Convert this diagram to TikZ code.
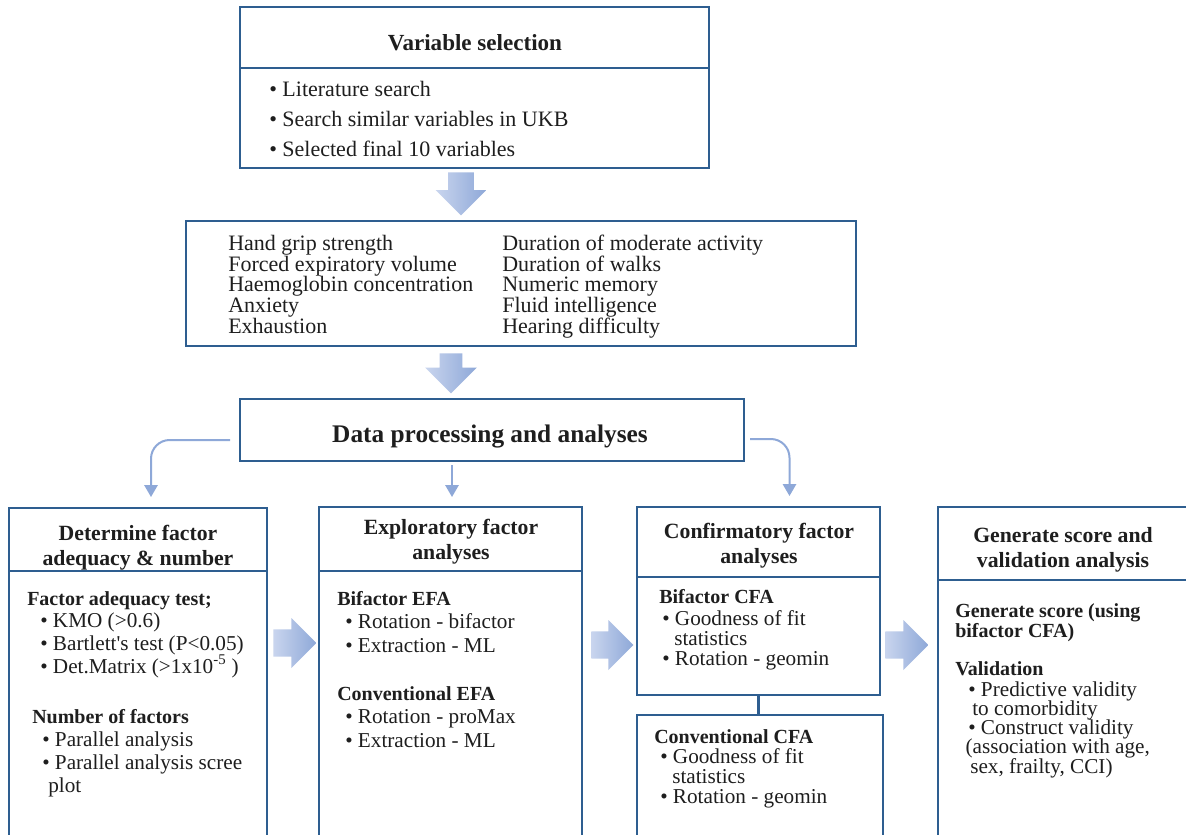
\documentclass[tikz,border=0pt]{standalone}
\usepackage{fontspec}
\setmainfont{Liberation Serif}
\usetikzlibrary{shapes.arrows,arrows.meta}

\definecolor{boxblue}{HTML}{2E5E90}
\definecolor{arrowblue}{HTML}{8EA8D8}
\definecolor{arrowlight}{HTML}{C9D5EE}
\definecolor{txtgray}{HTML}{1E1E1E}
\newdimen\unitpx \unitpx=0.75pt

\tikzset{
  box/.style={draw=boxblue, line width=2.2pt, fill=white, anchor=north west, inner sep=0pt, outer sep=0pt},
  headtxt/.style={font=\bfseries\fontsize{16.3}{18.5}\selectfont, align=center, text=txtgray, inner sep=0pt},
  % anchor base = baseline of the last line
  bodytxt/.style={font=\fontsize{15.9}{17}\selectfont, align=left, anchor=base west, inner sep=0pt, text=txtgray},
  subttl/.style={bodytxt, font=\bfseries\fontsize{15}{14.6}\selectfont},
  bigarrow/.style={single arrow, draw=none, inner xsep=0pt, inner ysep=12.5\unitpx, minimum height=43\unitpx,
    minimum width=50\unitpx, single arrow head extend=12.5\unitpx, left color=arrowlight, right color=arrowblue, anchor=tail},
  conn/.style={draw=arrowblue, line width=1.5pt, rounded corners=14pt, -{Triangle[width=10pt,length=9pt]}},
}

\begin{document}
\lineskiplimit=-20pt
\begin{tikzpicture}[x=0.75pt,y=-0.75pt]
\useasboundingbox[fill=white] (0,0) rectangle (1186,835);

% variable selection
\node[box, minimum width=469\unitpx, minimum height=61\unitpx] (vsel) at (240,7) {};
\node[box, minimum width=469\unitpx, minimum height=100\unitpx] (vselb) at (vsel.south west) {};
\node[headtxt, font=\bfseries\fontsize{17.3}{20}\selectfont] (vselt) at (475,43) {Variable selection};
\node[bodytxt, font=\fontsize{16.5}{22.2}\selectfont] (vseli) at (269,156)
  {• Literature search\\• Search similar variables in UKB\\• Selected final 10 variables};

\node[bigarrow, rotate=-90] (arr1) at (461,172) {};

% the 10 variables
\node[box, minimum width=670\unitpx, minimum height=125\unitpx] (vars) at (186,221) {};
\node[bodytxt, font=\fontsize{16.5}{15.4}\selectfont] (varl) at (228,333)
  {Hand grip strength\\Forced expiratory volume\\Haemoglobin concentration\\Anxiety\\Exhaustion};
\node[bodytxt, font=\fontsize{16.5}{15.4}\selectfont] (varr) at (502,333)
  {Duration of moderate activity\\Duration of walks\\Numeric memory\\Fluid intelligence\\Hearing difficulty};

\node[bigarrow, rotate=-90, minimum height=40\unitpx, inner ysep=11\unitpx, single arrow head extend=14.5\unitpx] (arr2) at (451,353) {};

% data processing
\node[box, minimum width=504\unitpx, minimum height=62\unitpx] (dp) at (240,399) {};
\node[headtxt, font=\bfseries\fontsize{19}{22}\selectfont] (dpt) at (490,437) {Data processing and analyses};

% factor adequacy
\node[box, minimum width=258\unitpx, minimum height=63\unitpx] (dah) at (9,508) {};
\node[box, minimum width=258\unitpx, minimum height=270\unitpx] (dab) at (dah.south west) {};
\node[headtxt] (daht) at (138,548) {Determine factor\\adequacy \& number};
\node[subttl] (adqt) at (27,605) {Factor adequacy test;};
\node[bodytxt] (adqi) at (40,673)
  {• KMO (>0.6)\\• Bartlett\textquotesingle s test (P<0.05)\\• Det.Matrix (>1x10\textsuperscript{-5} )};
\node[subttl] (numt) at (32,723) {Number of factors};
\node[bodytxt] (numi) at (42,792)
  {• Parallel analysis\\• Parallel analysis scree\\\hspace*{4.5pt}plot};

% EFA
\node[box, minimum width=263\unitpx, minimum height=64\unitpx] (efah) at (319,507) {};
\node[box, minimum width=263\unitpx, minimum height=270\unitpx] (efab) at (efah.south west) {};
\node[headtxt] (efaht) at (451,542) {Exploratory factor\\analyses};
\node[subttl] (befat) at (337,605) {Bifactor EFA};
\node[bodytxt, font=\fontsize{15.9}{18}\selectfont] (befai) at (345,652)
  {• Rotation - bifactor\\• Extraction - ML};
\node[subttl] (cefat) at (337,700) {Conventional EFA};
\node[bodytxt, font=\fontsize{15.9}{18}\selectfont] (cefai) at (345,747)
  {• Rotation - proMax\\• Extraction - ML};

% CFA
\node[box, minimum width=243\unitpx, minimum height=70\unitpx] (cfah) at (637,507) {};
\node[box, minimum width=243\unitpx, minimum height=118\unitpx] (cfab) at (cfah.south west) {};
\node[box, minimum width=246\unitpx, minimum height=125\unitpx] (cfa2) at (637,715) {};
\node[headtxt] (cfaht) at (759,546) {Confirmatory factor\\analyses};
\node[subttl] (bcfat) at (659,603) {Bifactor CFA};
\node[bodytxt, font=\fontsize{15.9}{15}\selectfont] (bcfai) at (662,665)
  {• Goodness of fit\\\hspace*{9pt}statistics\\• Rotation - geomin};
\node[subttl] (ccfat) at (654,743) {Conventional CFA};
\node[bodytxt, font=\fontsize{15.9}{15}\selectfont] (ccfai) at (660,803)
  {• Goodness of fit\\\hspace*{9pt}statistics\\• Rotation - geomin};
\draw[boxblue, line width=2pt] (cfab.south) -- (cfab.south |- cfa2.north);

% score and validation
\node[box, minimum width=250\unitpx, minimum height=73\unitpx] (genh) at (938,507) {};
\node[box, minimum width=250\unitpx, minimum height=260\unitpx] (genb) at (genh.south west) {};
\node[headtxt] (genht) at (1063,550) {Generate score and\\validation analysis};
\node[subttl] (gent) at (955,637) {Generate score (using\\bifactor CFA)};
\node[subttl] (valt) at (955,675) {Validation};
\node[bodytxt, font=\fontsize{15.9}{14.4}\selectfont] (vali) at (968,773)
  {• Predictive validity\\\hspace*{3pt}to comorbidity\\• Construct validity\\\hspace*{-2pt}(association with age,\\\hspace*{1.5pt}sex, frailty, CCI)};

% block arrows
\node[bigarrow, inner ysep=13\unitpx, single arrow head extend=11\unitpx] (arr3) at (273,643) {};
\node[bigarrow, inner ysep=13\unitpx, single arrow head extend=11\unitpx, minimum height=42\unitpx] (arr4) at (591,645) {};
\node[bigarrow, inner ysep=13\unitpx, single arrow head extend=11\unitpx] (arr5) at (885,645) {};

% thin connectors
\draw[conn] ([shift={(-10,10)}]dp.west) -| ([shift={(13,-11)}]dah.north);
\draw[conn] ([shift={(-40,4)}]dp.south) -- ([shift={(1.5,-10)}]efah.north);
\draw[conn] ([shift={(6,9)}]dp.east) -| ([shift={(31,-11)}]cfah.north);
\end{tikzpicture}
\end{document}
